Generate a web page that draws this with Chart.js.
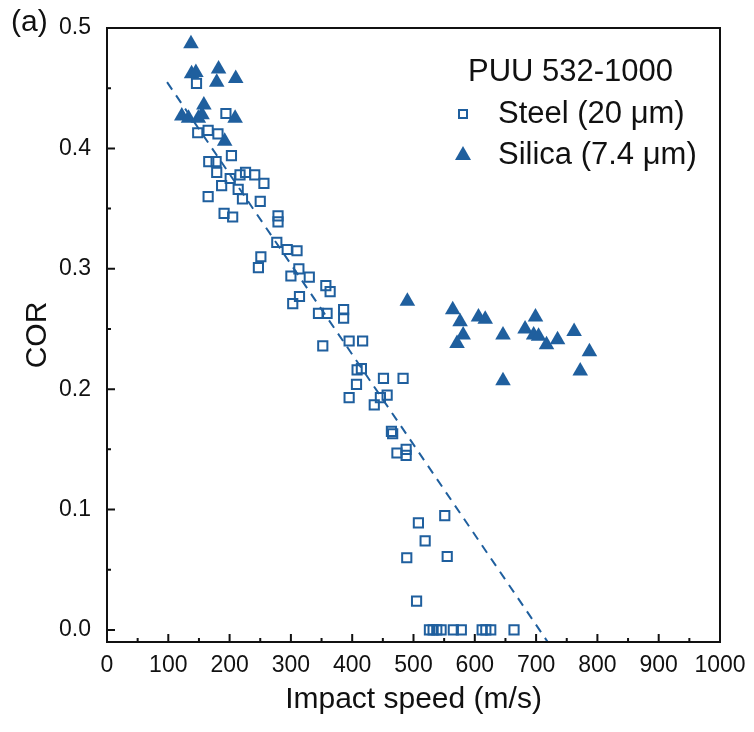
<!DOCTYPE html>
<html>
<head>
<meta charset="utf-8">
<script src="https://cdn.jsdelivr.net/npm/chart.js@4.4.1/dist/chart.umd.min.js"></script>
<style>
  body { margin: 0; background: #fff; }
</style>
</head>
<body>
<canvas id="corChart" width="754" height="732"></canvas>
<script>
// Steel (20 um) particles
const steelSpeed = [146, 194, 203, 148, 165, 181, 166, 178, 179, 187, 165, 201, 214, 217, 226, 241, 256, 221, 250, 191,
  205, 279, 279, 277, 294, 310, 251, 247, 300, 313, 330, 357, 364, 314, 303, 345, 359, 386, 386, 352,
  395, 417, 408, 415, 407, 395, 451, 483, 457, 446, 436, 464, 466, 473, 488, 488, 551, 508, 519, 489,
  555, 505, 526, 532, 538, 545, 565, 578, 612, 618, 626, 664];
const steelCOR = [0.454, 0.429, 0.394, 0.413, 0.415, 0.412, 0.389, 0.389, 0.380, 0.369, 0.360, 0.375, 0.366, 0.378, 0.380, 0.378, 0.371, 0.358, 0.356, 0.346,
  0.343, 0.344, 0.339, 0.322, 0.316, 0.315, 0.310, 0.301, 0.294, 0.300, 0.293, 0.286, 0.281, 0.277, 0.271, 0.263, 0.263, 0.266, 0.259, 0.236,
  0.240, 0.240, 0.216, 0.217, 0.204, 0.193, 0.209, 0.209, 0.195, 0.193, 0.187, 0.165, 0.163, 0.147, 0.150, 0.145, 0.095, 0.089, 0.074, 0.060,
  0.061, 0.024, 0, 0, 0, 0, 0, 0, 0, 0, 0, 0];

// Silica (7.4 um) particles
const silicaSpeed = [137, 138, 145, 182, 179, 210, 158, 122, 133, 149, 155, 209, 192,
  490, 564, 576, 581, 571, 606, 617, 646, 646, 699, 682, 696, 704, 717, 735, 762, 787, 772];
const silicaCOR = [0.487, 0.462, 0.463, 0.466, 0.455, 0.458, 0.436, 0.427, 0.425, 0.425, 0.428, 0.425, 0.406,
  0.273, 0.266, 0.256, 0.245, 0.238, 0.260, 0.258, 0.245, 0.207, 0.260, 0.250, 0.245, 0.244, 0.237, 0.241, 0.248, 0.231, 0.215];

// dashed linear fit
const fitSpeed = [98, 719];
const fitCOR = [0.455, -0.01];

const xTicks = [0, 100, 200, 300, 400, 500, 600, 700, 800, 900, 1000];
const yTicks = [0, 0.1, 0.2, 0.3, 0.4, 0.5];

const blue = '#1f5f9e';
const fontFamily = "'Liberation Sans', Arial, sans-serif";

Chart.defaults.font.family = fontFamily;
Chart.defaults.color = '#111';

const toPoints = (xs, ys) => xs.map((x, i) => ({ x: x, y: ys[i] }));

// frame, inward ticks, panel label and legend box
const decorPlugin = {
  id: 'decor',
  afterDraw(chart) {
    const { ctx, chartArea: a, scales } = chart;
    const x = scales.x, y = scales.y;
    ctx.save();
    ctx.strokeStyle = '#111';
    ctx.lineWidth = 2;
    ctx.strokeRect(a.left, a.top, a.right - a.left, a.bottom - a.top);

    ctx.beginPath();
    for (let v = 0; v <= 1000; v += 50) {
      const px = x.getPixelForValue(v);
      const len = v % 100 === 0 ? 8 : 4;
      ctx.moveTo(px, a.bottom);
      ctx.lineTo(px, a.bottom - len);
    }
    for (let i = 0; i <= 10; i++) {
      const py = y.getPixelForValue(i * 0.05);
      const len = i % 2 === 0 ? 8 : 4;
      ctx.moveTo(a.left, py);
      ctx.lineTo(a.left + len, py);
    }
    ctx.stroke();

    ctx.fillStyle = '#111';
    ctx.textBaseline = 'middle';
    ctx.textAlign = 'left';
    ctx.font = '30px ' + fontFamily;
    ctx.fillText('(a)', 11, 23);

    // legend
    ctx.font = '31px ' + fontFamily;
    ctx.fillText('PUU 532-1000', 468, 72);
    ctx.fillText('Steel (20 \u03bcm)', 498, 114);
    ctx.fillText('Silica (7.4 \u03bcm)', 498, 155);

    ctx.strokeStyle = blue;
    ctx.lineWidth = 2;
    ctx.strokeRect(459, 110, 8, 8);
    ctx.fillStyle = blue;
    ctx.beginPath();
    ctx.moveTo(463, 146);
    ctx.lineTo(471, 160);
    ctx.lineTo(455, 160);
    ctx.closePath();
    ctx.fill();
    ctx.restore();
  }
};

new Chart(document.getElementById('corChart').getContext('2d'), {
  type: 'scatter',
  data: {
    datasets: [{
      label: 'Fit',
      data: toPoints(fitSpeed, fitCOR),
      showLine: true,
      borderColor: blue,
      borderWidth: 2,
      borderDash: [9, 7],
      pointRadius: 0,
      fill: false
    }, {
      label: 'Steel (20 \u03bcm)',
      data: toPoints(steelSpeed, steelCOR),
      pointStyle: 'rect',
      pointRadius: 6.5,
      pointBorderWidth: 2,
      pointBorderColor: blue,
      pointBackgroundColor: 'rgba(255,255,255,0)'
    }, {
      label: 'Silica (7.4 \u03bcm)',
      data: toPoints(silicaSpeed, silicaCOR),
      pointStyle: 'triangle',
      pointRadius: 9,
      pointBorderWidth: 0,
      pointBorderColor: blue,
      pointBackgroundColor: blue
    }]
  },
  options: {
    responsive: false,
    animation: false,
    layout: { padding: { top: 28, right: 34, left: 0, bottom: 0 } },
    plugins: {
      legend: { display: false },
      tooltip: { enabled: false }
    },
    scales: {
      x: {
        type: 'linear',
        min: 0,
        max: 1000,
        afterBuildTicks: s => { s.ticks = xTicks.map(v => ({ value: v })); },
        afterFit: s => { s.height = 90; },
        grid: { display: false },
        border: { display: false },
        ticks: { font: { size: 23 }, padding: 2, maxRotation: 0, callback: v => String(v) },
        title: { display: true, text: 'Impact speed (m/s)', font: { size: 30 }, padding: { top: 4, bottom: 14 } }
      },
      y: {
        type: 'linear',
        min: -0.01,
        max: 0.5,
        afterBuildTicks: s => { s.ticks = yTicks.map(v => ({ value: v })); },
        afterFit: s => { s.width = 107; },
        grid: { display: false },
        border: { display: false },
        ticks: { font: { size: 23 }, padding: 8, callback: v => v.toFixed(1) },
        title: { display: true, text: 'COR', font: { size: 30 }, padding: { top: 20, bottom: 4 } }
      }
    }
  },
  plugins: [decorPlugin]
});
</script>
</body>
</html>
